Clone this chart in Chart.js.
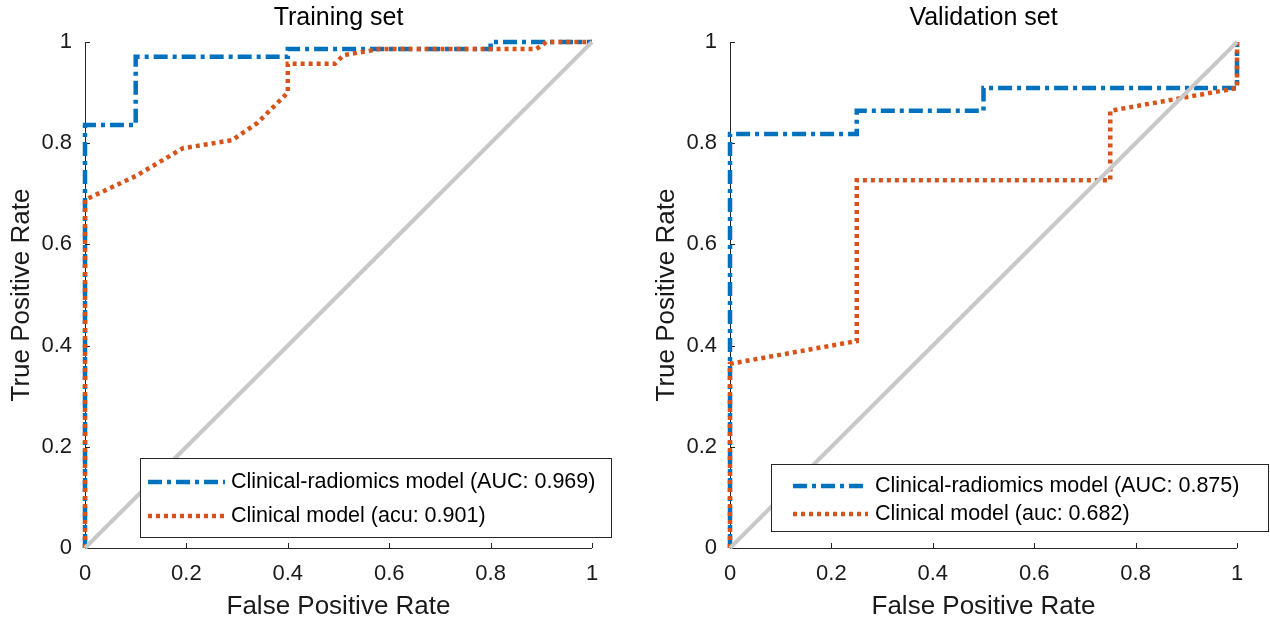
<!DOCTYPE html>
<html>
<head>
<meta charset="utf-8">
<script src="https://cdn.jsdelivr.net/npm/chart.js@4.4.1/dist/chart.umd.min.js"></script>
<style>
  html, body { margin: 0; padding: 0; background: #fff; overflow: hidden; }
  body { width: 1270px; height: 622px; position: relative; }
  .panel { position: absolute; top: 0; width: 635px; height: 622px; }
  #left { left: 0; }
  #right { left: 645px; }
</style>
</head>
<body>
<div class="panel" id="left"><canvas id="trainChart" width="635" height="622"></canvas></div>
<div class="panel" id="right"><canvas id="validChart" width="635" height="622"></canvas></div>
<script>
// axis ticks
const tickValues = [0, 0.2, 0.4, 0.6, 0.8, 1];
const tickLabels = ['0', '0.2', '0.4', '0.6', '0.8', '1'];
const chanceLine = [0, 1];

// training set ROC
const trainCombinedFpr = [0, 0, 0.1, 0.1, 0.4, 0.4, 0.8, 0.8, 1];
const trainCombinedTpr = [0, 0.836, 0.836, 0.971, 0.971, 0.986, 0.986, 1, 1];
const trainClinicalFpr = [0, 0, 0.1, 0.193, 0.29, 0.34, 0.385, 0.4, 0.4, 0.493, 0.51, 0.58, 0.89, 0.91, 1];
const trainClinicalTpr = [0, 0.688, 0.735, 0.79, 0.806, 0.84, 0.885, 0.9, 0.957, 0.957, 0.974, 0.986, 0.986, 1, 1];
const trainLabels = ['Clinical-radiomics model (AUC: 0.969)', 'Clinical model (acu: 0.901)'];

// validation set ROC
const validCombinedFpr = [0, 0, 0.25, 0.25, 0.5, 0.5, 1, 1];
const validCombinedTpr = [0, 0.818, 0.818, 0.864, 0.864, 0.909, 0.909, 1];
const validClinicalFpr = [0, 0, 0.25, 0.25, 0.75, 0.75, 1, 1];
const validClinicalTpr = [0, 0.364, 0.409, 0.727, 0.727, 0.864, 0.909, 1];
const validLabels = ['Clinical-radiomics model (AUC: 0.875)', 'Clinical model (auc: 0.682)'];

const FONT = '"Liberation Sans", Arial, sans-serif';
const AXIS_COLOR = '#262626';

const pts = (xs, ys) => xs.map((x, i) => ({x: x, y: ys[i]}));

// MATLAB-like axes: left + bottom lines, ticks pointing inward
const axesPlugin = {
  id: 'matAxes',
  beforeDatasetsDraw(chart) {
    const ctx = chart.ctx;
    const a = chart.chartArea;
    const xs = chart.scales.x, ys = chart.scales.y;
    ctx.save();
    ctx.strokeStyle = AXIS_COLOR;
    ctx.lineWidth = 1;
    ctx.beginPath();
    ctx.moveTo(Math.round(a.left) + 0.5, a.top);
    ctx.lineTo(Math.round(a.left) + 0.5, Math.round(a.bottom) + 0.5);
    ctx.lineTo(a.right, Math.round(a.bottom) + 0.5);
    tickValues.forEach(v => {
      const px = Math.round(xs.getPixelForValue(v)) + 0.5;
      ctx.moveTo(px, a.bottom);
      ctx.lineTo(px, a.bottom - 5);
      const py = Math.round(ys.getPixelForValue(v)) + 0.5;
      ctx.moveTo(a.left, py);
      ctx.lineTo(a.left + 5, py);
    });
    ctx.stroke();
    ctx.restore();
  }
};

// boxed legend inside the plot
const legendBoxPlugin = {
  id: 'legendBox',
  afterDatasetsDraw(chart, args, opts) {
    const ctx = chart.ctx;
    const b = opts.box;
    ctx.save();
    ctx.fillStyle = '#fff';
    ctx.fillRect(b.left, b.top, b.right - b.left, b.bottom - b.top);
    ctx.strokeStyle = AXIS_COLOR;
    ctx.lineWidth = 1;
    ctx.strokeRect(b.left + 0.5, b.top + 0.5, b.right - b.left, b.bottom - b.top);
    ctx.font = opts.font;
    ctx.textBaseline = 'middle';
    chart.data.datasets.filter(d => d.label).forEach((d, i) => {
      const y = opts.rows[i];
      ctx.strokeStyle = d.borderColor;
      ctx.lineWidth = d.borderWidth;
      ctx.setLineDash(d.borderDash || []);
      ctx.beginPath();
      ctx.moveTo(opts.sample[0], y);
      ctx.lineTo(opts.sample[1], y);
      ctx.stroke();
      ctx.setLineDash([]);
      ctx.fillStyle = '#000';
      ctx.fillText(d.label, opts.textX, y);
    });
    ctx.restore();
  }
};

function makeChart(id, title, combined, clinical, labels, legend) {
  const axis = (label, fit) => ({
    type: 'linear',
    min: 0,
    max: 1,
    afterBuildTicks: s => { s.ticks = tickValues.map(v => ({value: v})); },
    afterFit: fit,
    grid: {display: false, drawTicks: false},
    border: {display: false},
    ticks: {
      autoSkip: false,
      maxRotation: 0,
      padding: 13,
      color: '#1a1a1a',
      font: {family: FONT, size: 22},
      callback: v => tickLabels[tickValues.findIndex(t => Math.abs(t - v) < 1e-9)]
    },
    title: {
      display: true,
      text: label,
      color: '#1a1a1a',
      font: {family: FONT, size: 26},
      padding: {top: 6, bottom: 0}
    }
  });

  return new Chart(document.getElementById(id), {
    type: 'scatter',
    data: {
      datasets: [
        {
          label: labels[0],
          data: pts(combined[0], combined[1]),
          borderColor: '#0072BD',
          borderWidth: 4.5,
          borderDash: [14, 5, 4, 5],
          order: 2
        },
        {
          label: labels[1],
          data: pts(clinical[0], clinical[1]),
          borderColor: '#D95319',
          borderWidth: 4.5,
          borderDash: [4, 4],
          order: 1
        },
        {
          label: '',
          data: pts(chanceLine, chanceLine),
          borderColor: '#c8c8c8',
          borderWidth: 4,
          order: 0
        }
      ].map(d => Object.assign(d, {showLine: true, pointRadius: 0, tension: 0, clip: 8, borderCapStyle: 'butt'}))
    },
    options: {
      responsive: false,
      animation: false,
      layout: {padding: {left: 0, right: 43, top: 0, bottom: 0}},
      scales: {
        x: axis('False Positive Rate', s => { s.height = 74; }),
        y: axis('True Positive Rate', s => { s.width = 85; })
      },
      plugins: {
        legend: {display: false},
        tooltip: {enabled: false},
        title: {
          display: true,
          fullSize: false,
          text: title,
          color: '#000',
          font: {family: FONT, size: 25, weight: 'normal'},
          padding: {top: 3, bottom: 9}
        },
        legendBox: legend
      }
    },
    plugins: [axesPlugin, legendBoxPlugin]
  });
}

makeChart('trainChart', 'Training set',
  [trainCombinedFpr, trainCombinedTpr], [trainClinicalFpr, trainClinicalTpr], trainLabels,
  {box: {left: 140, top: 458, right: 611, bottom: 537}, rows: [482, 516], sample: [148, 225], textX: 231,
   font: '21.5px ' + FONT});

makeChart('validChart', 'Validation set',
  [validCombinedFpr, validCombinedTpr], [validClinicalFpr, validClinicalTpr], validLabels,
  {box: {left: 126, top: 464, right: 623, bottom: 531}, rows: [486, 514], sample: [148, 223], textX: 230,
   font: '21.5px ' + FONT});
</script>
</body>
</html>
